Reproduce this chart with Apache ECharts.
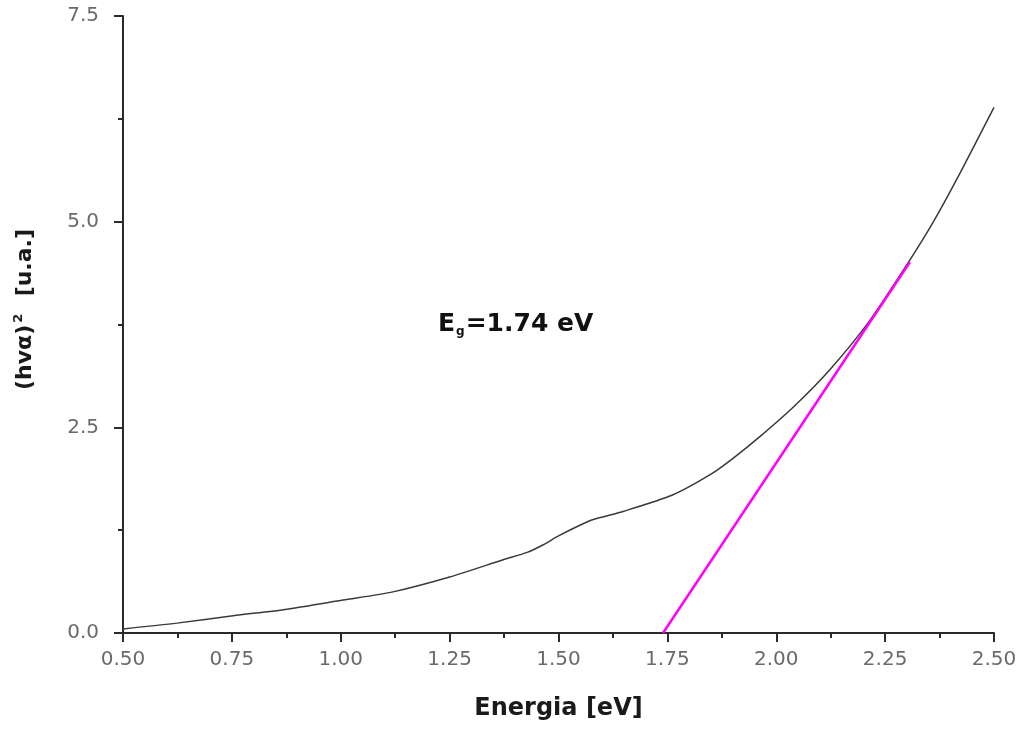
<!DOCTYPE html>
<html>
<head>
<meta charset="utf-8">
<script src="https://cdn.jsdelivr.net/npm/echarts@6/dist/echarts.min.js"></script>
<style>
  html, body { margin: 0; padding: 0; background: #fff; }
  #chart { width: 1024px; height: 731px; }
</style>
</head>
<body>
<div id="chart"></div>
<script>
// absorption curve
const energy = [0.50, 0.624, 0.753, 0.877, 1.005, 1.12, 1.25, 1.373, 1.428, 1.464, 1.50, 1.549, 1.58, 1.65, 1.763, 1.85, 1.90, 1.963, 2.04, 2.123, 2.215, 2.31, 2.36, 2.422, 2.50]
const absorb = [0.05, 0.12, 0.21, 0.29, 0.40, 0.50, 0.68, 0.89, 0.98, 1.07, 1.18, 1.31, 1.38, 1.48, 1.68, 1.93, 2.12, 2.39, 2.75, 3.20, 3.80, 4.56, 4.99, 5.59, 6.39]
// linear fit to the band edge
const fitX = [1.74, 2.307]
const fitY = [0, 4.51]
const xTicks = [0.5, 2.5, 0.25]
const yTicks = [0, 7.5, 2.5]

const chart = echarts.init(document.getElementById('chart'))
const font = 'DejaVu Sans, sans-serif'
const axisCommon = {
  axisLine: { show: true, lineStyle: { color: '#2a2a2a', width: 2 } },
  axisTick: { show: true, inside: false, length: 9, lineStyle: { color: '#2a2a2a', width: 2 } },
  minorTick: { show: true, splitNumber: 2, length: 5, lineStyle: { color: '#2a2a2a', width: 2 } },
  splitLine: { show: false }
}

chart.setOption({
  animation: false,
  grid: { left: 123, right: 30, top: 16, bottom: 98 },
  xAxis: Object.assign({}, axisCommon, {
    type: 'value', min: xTicks[0], max: xTicks[1], interval: xTicks[2],
    name: 'Energia [eV]', nameLocation: 'middle', nameGap: 64,
    nameTextStyle: { fontFamily: font, fontWeight: 'bold', fontSize: 24, color: '#1a1a1a' },
    axisLabel: { color: '#6a6a6a', fontFamily: font, fontSize: 20, margin: 17, formatter: v => v.toFixed(2) }
  }),
  yAxis: Object.assign({}, axisCommon, {
    type: 'value', min: yTicks[0], max: yTicks[1], interval: yTicks[2],
    name: '{n|(hvα)}{s|2}{n|  [u.a.]}', nameLocation: 'middle', nameGap: 84,
    nameTextStyle: {
      fontFamily: font, fontWeight: 'bold', fontSize: 22, color: '#1a1a1a',
      padding: [0, 0, 0, 30],
      rich: {
        n: { fontFamily: font, fontWeight: 'bold', fontSize: 22, color: '#1a1a1a' },
        s: { fontFamily: font, fontWeight: 'bold', fontSize: 13, color: '#1a1a1a', verticalAlign: 'top', padding: [0, 2, 14, 2] }
      }
    },
    axisLabel: { color: '#6a6a6a', fontFamily: font, fontSize: 20, margin: 24, formatter: v => v.toFixed(1) }
  }),
  graphic: [{
    type: 'text', left: 438, top: 312,
    style: {
      text: '{b|E}{g|g}{b|=1.74 eV}',
      rich: {
        b: { fontFamily: font, fontWeight: 'bold', fontSize: 25, fill: '#111' },
        g: { fontFamily: font, fontWeight: 'bold', fontSize: 12, fill: '#111', verticalAlign: 'bottom', padding: [14, 1, 0, 1] }
      }
    }
  }],
  series: [
    {
      type: 'line', data: energy.map((e, i) => [e, absorb[i]]),
      smooth: 0.25, symbol: 'none',
      lineStyle: { color: '#3a3a3a', width: 1.5 }
    },
    {
      type: 'line', data: fitX.map((e, i) => [e, fitY[i]]),
      symbol: 'none',
      lineStyle: { color: '#ff00ff', width: 2.5 }
    }
  ]
})
</script>
</body>
</html>
